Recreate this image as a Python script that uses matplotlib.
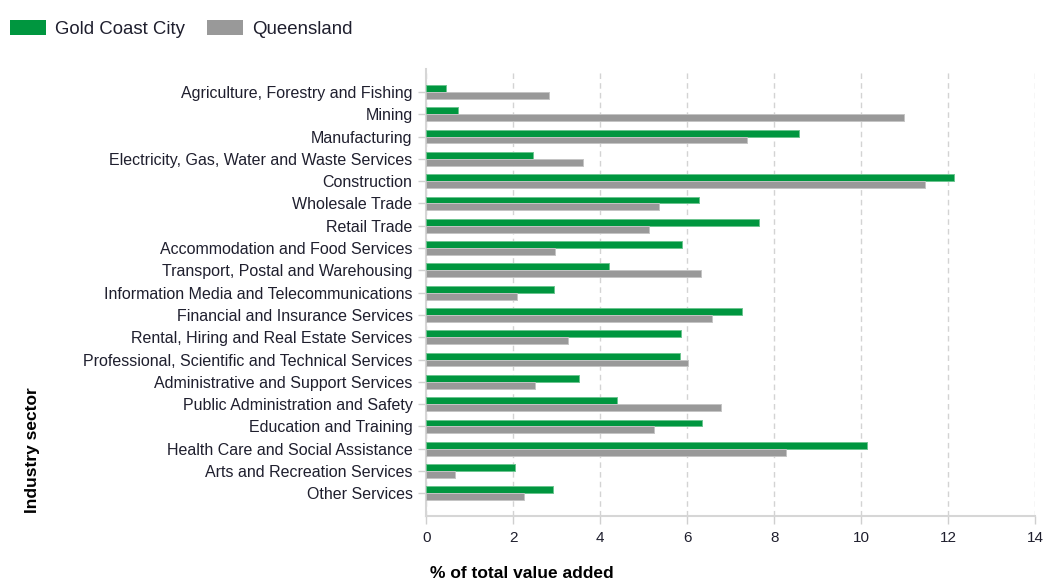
import matplotlib
matplotlib.use("Agg")
import matplotlib.pyplot as plt
import numpy as np
from matplotlib.patches import Patch

categories = [
    "Agriculture, Forestry and Fishing",
    "Mining",
    "Manufacturing",
    "Electricity, Gas, Water and Waste Services",
    "Construction",
    "Wholesale Trade",
    "Retail Trade",
    "Accommodation and Food Services",
    "Transport, Postal and Warehousing",
    "Information Media and Telecommunications",
    "Financial and Insurance Services",
    "Rental, Hiring and Real Estate Services",
    "Professional, Scientific and Technical Services",
    "Administrative and Support Services",
    "Public Administration and Safety",
    "Education and Training",
    "Health Care and Social Assistance",
    "Arts and Recreation Services",
    "Other Services",
]
gold_coast = [0.46, 0.72, 8.56, 2.44, 12.14, 6.28, 7.66, 5.88, 4.21, 2.93,
              7.27, 5.86, 5.83, 3.52, 4.38, 6.35, 10.13, 2.04, 2.90]
queensland = [2.83, 10.99, 7.37, 3.59, 11.46, 5.36, 5.13, 2.96, 6.32, 2.08,
              6.58, 3.26, 6.02, 2.50, 6.78, 5.24, 8.26, 0.66, 2.24]
series_names = ["Gold Coast City", "Queensland"]
x_ticks = [0, 2, 4, 6, 8, 10, 12, 14]

green = "#00963f"
grey = "#999999"
txt = "#1f1f2e"

plt.rcParams['font.family'] = ['Liberation Sans', 'DejaVu Sans']

fig = plt.figure(figsize=(10.46, 5.81), dpi=100)
ax = fig.add_axes([0.4077, 0.1124, 0.5818, 0.7689])

y = np.arange(len(categories))
h = 0.31
ax.barh(y - h / 2, gold_coast, height=h, color=green, edgecolor="#6cc48f",
        linewidth=0.7, zorder=3)
ax.barh(y + h / 2, queensland, height=h, color=grey, edgecolor="#c4c4c4",
        linewidth=0.7, zorder=3)

ax.set_ylim(len(categories), -1.03)
ax.set_xlim(0, 14)
ax.set_yticks(y)
ax.set_yticklabels(categories, fontsize=11.5, color=txt)
ax.set_xticks(x_ticks)
ax.set_xticklabels([str(t) for t in x_ticks], fontsize=11, color=txt)

ax.grid(axis="x", color="#d3d3d3", linestyle=(0, (4, 3)), linewidth=1.0, zorder=0)
for s in ["top", "right"]:
    ax.spines[s].set_visible(False)
for s in ["left", "bottom"]:
    ax.spines[s].set_color("#d6d6d6")
    ax.spines[s].set_linewidth(1.5)
ax.tick_params(axis="y", length=6, width=1, color="#cfcfcf", pad=4)
ax.tick_params(axis="x", length=6, width=1, color="#cfcfcf", pad=5)

fig.text(430 / 1046, 1 - 573 / 581, "% of total value added", fontsize=12.5,
         fontweight="bold", ha="left", va="center", color="black")
fig.text(32 / 1046, 1 - 513 / 581, "Industry sector", rotation=90, fontsize=12.5,
         fontweight="bold", ha="center", va="bottom", color="black")

handles = [Patch(facecolor=green, edgecolor="none"),
           Patch(facecolor=grey, edgecolor="none")]
fig.legend(handles, series_names, loc="upper left",
           bbox_to_anchor=(10 / 1046, 1 - 20 / 581),
           ncol=2, frameon=False, fontsize=13.4, handlelength=1.95,
           handleheight=0.9, handletextpad=0.45, columnspacing=1.2,
           borderpad=0, borderaxespad=0, labelcolor=txt)

fig.savefig("out.png", dpi=100)
